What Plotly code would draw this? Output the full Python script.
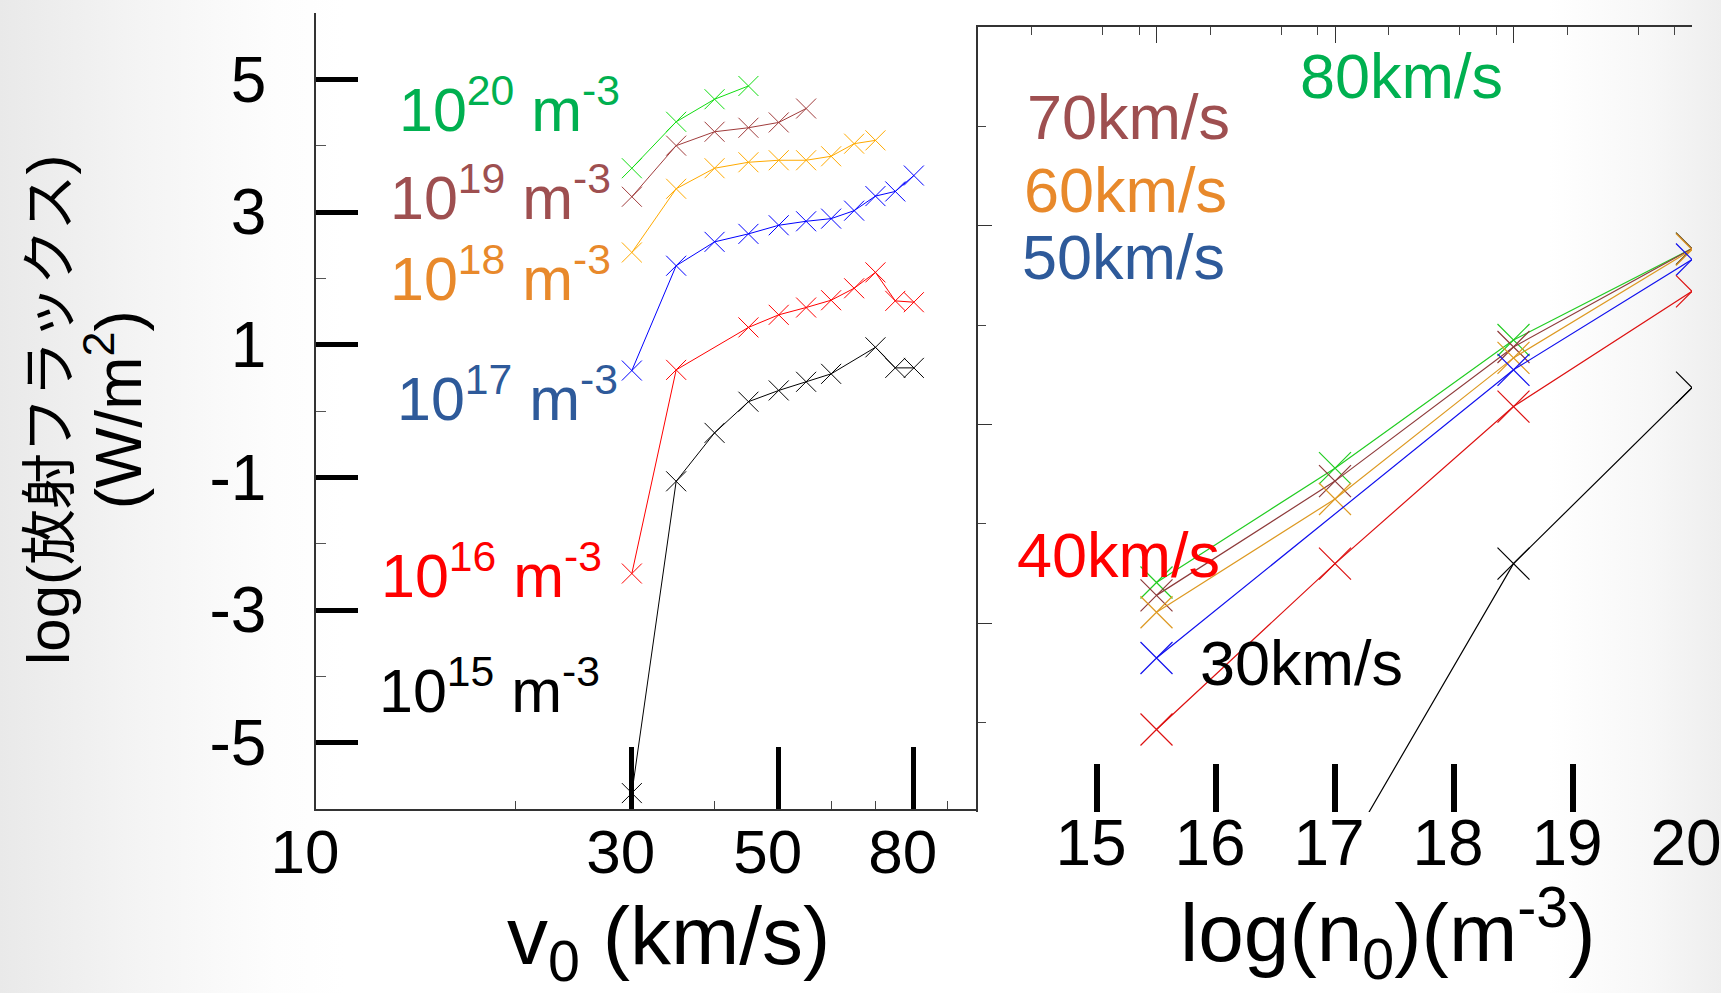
import base64
import plotly.graph_objects as go

W, H = 1721, 993

# ---- left panel: log radiative flux vs. injection velocity (one curve per density)
V_KMS = [30, 35, 40, 45, 50, 55, 60, 65, 70, 75, 80]
V_RED = [30, 35, 45, 50, 55, 60, 65, 70, 75, 80]
V_BLACK = [30, 35, 40, 45, 50, 55, 60, 70, 75, 80]

FLUX_N20 = [3.66, 4.36, 4.70, 4.90]
FLUX_N19 = [3.23, 4.00, 4.21, 4.27, 4.35, 4.56]
FLUX_N18 = [2.39, 3.35, 3.66, 3.75, 3.78, 3.78, 3.84, 4.03, 4.08]
FLUX_N17 = [0.61, 2.19, 2.55, 2.67, 2.80, 2.86, 2.90, 3.02, 3.24, 3.31, 3.55]
FLUX_N16 = [-2.45, 0.62, 1.26, 1.45, 1.56, 1.67, 1.85, 2.09, 1.66, 1.64]
FLUX_N15 = [-5.76, -1.06, -0.33, 0.14, 0.31, 0.44, 0.56, 0.96, 0.65, 0.65]

# ---- right panel: log radiative flux vs. log density (one curve per velocity)
LOG_N = [15.5, 17.0, 18.5, 20.0]
LOG_N_V50 = [15.5, 18.5, 20.0]
LOG_N_V30 = [17.0, 18.5, 20.0]
FLUX_V80 = [0.41, 1.56, 2.85, 3.77]
FLUX_V70 = [0.28, 1.43, 2.78, 3.77]
FLUX_V60 = [0.11, 1.25, 2.67, 3.76]
FLUX_V50 = [-0.35, 2.55, 3.66]
FLUX_V40 = [-1.07, 0.60, 2.18, 3.34]
FLUX_V30 = [-2.49, 0.60, 2.37]

# ---- tick values / labels
V_TICKS = [10, 30, 50, 80]
V_MINOR = [20, 30, 40, 50, 60, 70, 80, 90]
Y_TICKS = [-5, -3, -1, 1, 3, 5]
Y_ALL = [-5, -4, -3, -2, -1, 0, 1, 2, 3, 4, 5]
LOGN_TICKS = [15, 16, 17, 18, 19, 20]
TOP_MAJOR = [10, 100, 1000, 10000]
TOP_MINOR = [2, 5, 8, 20, 50, 80, 200, 500, 800, 2000, 5000, 8000]
R_MAJOR = [0, 2, 4]
R_MINOR = [-1, 1, 3, 5]

DENSITY_LABELS = ["10<sup>20</sup> m<sup>-3</sup>", "10<sup>19</sup> m<sup>-3</sup>",
                  "10<sup>18</sup> m<sup>-3</sup>", "10<sup>17</sup> m<sup>-3</sup>",
                  "10<sup>16</sup> m<sup>-3</sup>", "10<sup>15</sup> m<sup>-3</sup>"]
VELOCITY_LABELS = ["80km/s", "70km/s", "60km/s", "50km/s", "40km/s", "30km/s"]

FONT = "Liberation Sans, Arial, Noto Sans CJK JP, sans-serif"
LABEL_COLORS = ["#00B050", "#9E4F50", "#E8892B", "#2E5A9A", "#FF0000", "#000000"]
LEFT_LINE = ["#11DD11", "#A03C3C", "#FFAA00", "#0000FF", "#FF0000", "#000000"]
RIGHT_LINE = ["#22CC22", "#8E3B3B", "#DD9922", "#1111EE", "#DD1111", "#000000"]


def px_x(x):
    return x / W


def px_y(y):
    return 1 - y / H


fig = go.Figure()

left_series = [
    (V_KMS[:4], FLUX_N20), (V_KMS[:6], FLUX_N19), (V_KMS[:9], FLUX_N18),
    (V_KMS, FLUX_N17), (V_RED, FLUX_N16), (V_BLACK, FLUX_N15),
]
for (xs, ys), col in zip(left_series, LEFT_LINE):
    fig.add_trace(go.Scatter(
        x=xs, y=ys, xaxis="x", yaxis="y", mode="lines+markers",
        line=dict(color=col, width=1),
        marker=dict(symbol="x-thin", size=20, line=dict(color=col, width=1)),
        showlegend=False, hoverinfo="skip"))

right_series = [
    (LOG_N, FLUX_V80), (LOG_N, FLUX_V70), (LOG_N, FLUX_V60),
    (LOG_N_V50, FLUX_V50), (LOG_N, FLUX_V40), (LOG_N_V30, FLUX_V30),
]
for (xs, ys), col in zip(right_series, RIGHT_LINE):
    fig.add_trace(go.Scatter(
        x=xs, y=ys, xaxis="x2", yaxis="y2", mode="lines+markers",
        line=dict(color=col, width=1.2),
        marker=dict(symbol="x-thin", size=32, line=dict(color=col, width=1.2)),
        showlegend=False, hoverinfo="skip"))

# invisible anchor so the log-scaled top axis of the right panel gets a subplot
fig.add_trace(go.Scatter(
    x=[TOP_MAJOR[0]], y=[R_MAJOR[0]], xaxis="x4", yaxis="y2", mode="markers",
    marker=dict(opacity=0, size=1), showlegend=False, hoverinfo="skip"))

# panel geometry (pixels)
L_X0, L_X1, L_Y0, L_Y1 = 316, 978, 13, 809
R_X0, R_X1, R_Y0, R_Y1 = 978, 1692, 27, 812
l_dom_x = [px_x(L_X0), px_x(L_X1)]
l_dom_y = [px_y(L_Y1), px_y(L_Y0)]
r_dom_x = [px_x(R_X0), px_x(R_X1)]
r_dom_y = [px_y(R_Y1), px_y(R_Y0)]

common = dict(showgrid=False, zeroline=False, automargin=False)

fig.update_layout(
    width=W, height=H,
    margin=dict(l=0, r=0, t=0, b=0, autoexpand=False),
    paper_bgcolor="white", plot_bgcolor="rgba(0,0,0,0)",
    font=dict(family=FONT, color="black"),
    # left panel: bottom axis with heavy ticks, thin ticks on the other sides
    xaxis=dict(type="log", range=[1, 2], domain=l_dom_x, anchor="y",
               showline=True, linecolor="#333", linewidth=1.5,
               ticks="inside", tickvals=V_TICKS, ticktext=[str(v) for v in V_TICKS],
               ticklen=62, tickwidth=5, tickcolor="black",
               tickfont=dict(size=62, family=FONT), ticklabelstandoff=-12,
               ticklabelshift=-11, ticklabeloverflow="allow",
               minor=dict(ticks="inside", tickvals=V_MINOR, ticklen=8,
                          tickwidth=1, tickcolor="#444"),
               **common),
    yaxis=dict(range=[-6, 6], domain=l_dom_y, anchor="x",
               showline=True, linecolor="#333", linewidth=1.5,
               ticks="inside", tickvals=Y_TICKS, ticktext=[str(v) for v in Y_TICKS],
               ticklen=42, tickwidth=5, tickcolor="black",
               tickfont=dict(size=64, family=FONT), ticklabelstandoff=35,
               ticklabeloverflow="allow",
               minor=dict(ticks="inside", tickvals=Y_ALL, ticklen=10,
                          tickwidth=1, tickcolor="#555"),
               **common),
    xaxis3=dict(type="log", range=[1, 2], overlaying="x", side="top", anchor="y",
                showline=True, linecolor="#333", linewidth=1.5,
                ticks="inside", tickvals=V_MINOR, ticklen=8, tickwidth=1,
                tickcolor="#444", showticklabels=False, **common),
    yaxis3=dict(range=[-6, 6], overlaying="y", side="right", anchor="x",
                showline=True, linecolor="#333", linewidth=1.5,
                ticks="inside", tickvals=Y_ALL, ticklen=10, tickwidth=1,
                tickcolor="#444", showticklabels=False, **common),
    # right panel
    xaxis2=dict(range=[14, 20], domain=r_dom_x, anchor="y2",
                showline=False, ticks="inside", tickvals=LOGN_TICKS,
                ticktext=[str(v) for v in LOGN_TICKS],
                ticklen=48, tickwidth=6, tickcolor="black",
                tickfont=dict(size=64, family=FONT), ticklabelstandoff=-12,
                ticklabelshift=-6, ticklabeloverflow="allow",
                **common),
    yaxis2=dict(range=[-1.9, 6.0], domain=r_dom_y, anchor="x2",
                showline=True, linecolor="#333", linewidth=1.5,
                ticks="inside", tickvals=R_MAJOR, ticklen=14, tickwidth=1,
                tickcolor="#333", showticklabels=False,
                minor=dict(ticks="inside", tickvals=R_MINOR, ticklen=8,
                           tickwidth=1, tickcolor="#444"),
                **common),
    xaxis4=dict(type="log", range=[0, 4], overlaying="x2", side="top", anchor="y2",
                showline=True, linecolor="#333", linewidth=1.5,
                ticks="inside", tickvals=TOP_MAJOR, ticklen=16, tickwidth=1,
                tickcolor="#333", showticklabels=False,
                minor=dict(ticks="inside", tickvals=TOP_MINOR, ticklen=8,
                           tickwidth=1, tickcolor="#444"),
                **common),
)

# soft slide background
svg = (
    f'<svg xmlns="http://www.w3.org/2000/svg" width="{W}" height="{H}" '
    'preserveAspectRatio="none"><defs>'
    '<linearGradient id="g" x1="0" y1="0" x2="1" y2="0">'
    '<stop offset="0" stop-color="#e9e9e9"/>'
    '<stop offset="0.08" stop-color="#f4f4f4"/>'
    '<stop offset="0.16" stop-color="#fdfdfd"/>'
    '<stop offset="0.2" stop-color="#ffffff"/>'
    '<stop offset="0.9" stop-color="#ffffff"/>'
    '<stop offset="0.96" stop-color="#f7f7f7"/>'
    '<stop offset="1" stop-color="#eeeeee"/>'
    '</linearGradient></defs>'
    '<rect width="100%" height="100%" fill="url(#g)"/></svg>'
)
fig.add_layout_image(dict(
    source="data:image/svg+xml;base64," + base64.b64encode(svg.encode()).decode(),
    xref="paper", yref="paper", x=0, y=1, sizex=1, sizey=1,
    sizing="stretch", xanchor="left", yanchor="top", layer="below"))

# curve labels (left x, vertical centre in pixels)
density_pos = [(397, 105), (388, 193), (388, 274), (395, 394), (379, 571), (377, 686)]
for txt, col, (x, y) in zip(DENSITY_LABELS, LABEL_COLORS, density_pos):
    fig.add_annotation(text=txt, x=px_x(x), y=px_y(y), xref="paper", yref="paper",
                       xanchor="left", yanchor="middle", showarrow=False,
                       font=dict(size=61, color=col, family=FONT))

velocity_pos = [(1298, 76), (1025, 117), (1022, 190), (1020, 257), (1015, 555), (1198, 663)]
for txt, col, (x, y) in zip(VELOCITY_LABELS, LABEL_COLORS, velocity_pos):
    fig.add_annotation(text=txt, x=px_x(x), y=px_y(y), xref="paper", yref="paper",
                       xanchor="left", yanchor="middle", showarrow=False,
                       font=dict(size=63, color=col, family=FONT))

# axis titles
fig.add_annotation(text="v<sub>0</sub> (km/s)", x=px_x(668), y=px_y(941),
                   xref="paper", yref="paper", xanchor="center", yanchor="middle",
                   showarrow=False, font=dict(size=82, family=FONT))
fig.add_annotation(text="log(n<sub>0</sub>)(m<sup>-3</sup>)", x=px_x(1388), y=px_y(933),
                   xref="paper", yref="paper", xanchor="center", yanchor="middle",
                   showarrow=False, font=dict(size=82, family=FONT))
fig.add_annotation(
    text=("<span style='font-size:60px'>log(</span>"
          "<span style='font-size:56px'>放射フラックス</span>"
          "<span style='font-size:60px'>)</span><br>"
          "<span style='font-size:64px'>(W/m<sup>2</sup>)</span>"),
    x=px_x(85), y=px_y(410), xref="paper", yref="paper",
    xanchor="center", yanchor="middle", textangle=-90, showarrow=False,
    font=dict(size=55, family=FONT))

fig.write_html("out.html")
